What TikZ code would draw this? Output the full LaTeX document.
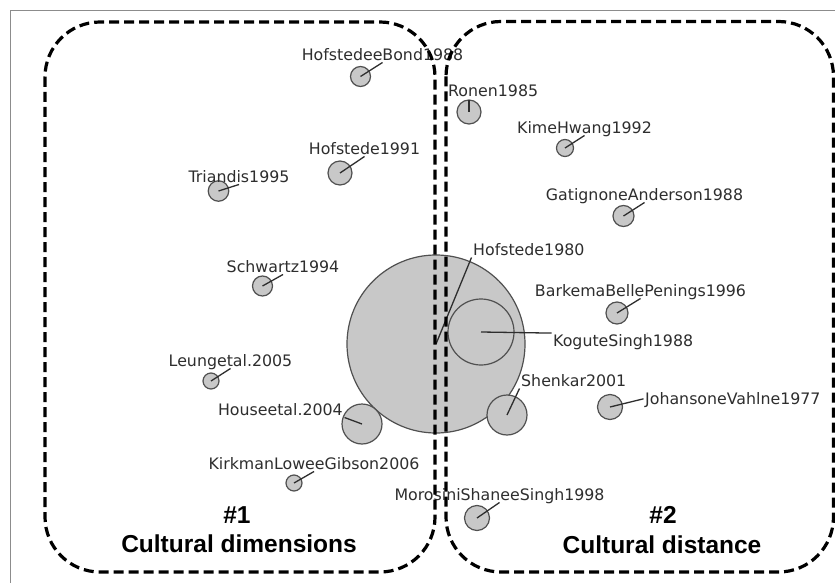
\documentclass[tikz,border=0pt]{standalone}
\usepackage{fontspec}
\setmainfont{DejaVu Sans}
\newfontfamily\titlefont{Liberation Sans}
\usepackage{tikz}
\definecolor{circfill}{HTML}{C8C8C8}
\definecolor{circline}{HTML}{505050}
\definecolor{ink}{HTML}{2E2E2E}
\definecolor{framegray}{HTML}{8C8C8C}

\begin{document}
\begin{tikzpicture}[x=1pt, y=-1pt,
		study/.style={circle, draw=circline, fill=circfill, line width=1.2pt, inner sep=0pt, minimum size=#1},
		lbl/.style={text=ink, font=\fontsize{15.8}{18}\selectfont, inner sep=1.5pt, text depth=0pt},
		link/.style={draw=ink, line width=1.3pt},
		cluster/.style={draw=black, line width=3.2pt, dash pattern=on 10pt off 5pt, rounded corners=55pt},
		grouptitle/.style={font=\titlefont\bfseries\fontsize{24.5}{29}\selectfont, anchor=base, inner sep=0pt}]

	\path[use as bounding box, fill=white] (0,0) rectangle (835,583);
	\draw[framegray, line width=1.8pt] (10.5,583) -- (10.5,10.5) -- (835,10.5);

	\node[study=178pt] (hof80) at (436,344) {};
	\node[study=66pt] (kogut) at (481,332) {};
	\node[study=40pt] (house) at (362,424) {};
	\node[study=40pt] (shenkar) at (507,415) {};
	\node[study=20pt] (bond) at (360.5,76.5) {};
	\node[study=24pt] (hof91) at (340,173) {};
	\node[study=20.5pt] (triandis) at (218.5,191) {};
	\node[study=20pt] (schwartz) at (262.5,286) {};
	\node[study=16pt] (leung) at (211,381) {};
	\node[study=16pt] (kirkman) at (294,483) {};
	\node[study=24pt] (ronen) at (469,112) {};
	\node[study=17pt] (kim) at (565,148) {};
	\node[study=21pt] (gatignon) at (623.5,216) {};
	\node[study=22pt] (barkema) at (617,313) {};
	\node[study=25pt] (johanson) at (610,407) {};
	\node[study=25pt] (morosini) at (477,518) {};

	\node[lbl, anchor=south] (bondl) at (382.5,62.5) {HofstedeeBond1988};
	\node[lbl, anchor=south] (hof91l) at (364.5,156.5) {Hofstede1991};
	\node[lbl, anchor=south] (triandisl) at (239,184.5) {Triandis1995};
	\node[lbl, anchor=south] (schwartzl) at (283,274.5) {Schwartz1994};
	\node[lbl, anchor=south] (leungl) at (230.5,368.5) {Leungetal.2005};
	\node[lbl, anchor=south] (kirkmanl) at (314,471.5) {KirkmanLoweeGibson2006};
	\node[lbl, anchor=south] (kiml) at (584.5,135.5) {KimeHwang1992};
	\node[lbl, anchor=south] (gatignonl) at (644.5,202.5) {GatignoneAnderson1988};
	\node[lbl, anchor=south] (barkemal) at (640.5,298.5) {BarkemaBellePenings1996};
	\node[lbl, anchor=south] (morosinil) at (499.5,502.5) {MorosiniShaneeSingh1998};
	\node[lbl, anchor=south west] (ronenl) at (446.5,98.5) {Ronen1985};
	\node[lbl, anchor=south west] (hof80l) at (471.5,257.5) {Hofstede1980};
	\node[lbl, anchor=south west] (kogutl) at (551.5,348.5) {KoguteSingh1988};
	\node[lbl, anchor=south west] (shenkarl) at (519.5,388.5) {Shenkar2001};
	\node[lbl, anchor=south west] (johansonl) at (643.5,406.5) {JohansoneVahlne1977};
	\node[lbl, anchor=south east] (housel) at (344.5,417.5) {Houseetal.2004};
	\coordinate (rtip) at (469,100);

	\draw[link] (bond.center) -- (bondl.south);
	\draw[link] (hof91.center) -- (hof91l.south);
	\draw[link] (triandis.center) -- (triandisl.south);
	\draw[link] (schwartz.center) -- (schwartzl.south);
	\draw[link] (leung.center) -- (leungl.south);
	\draw[link] (kirkman.center) -- (kirkmanl.south);
	\draw[link] (kim.center) -- (kiml.south);
	\draw[link] (gatignon.center) -- (gatignonl.south);
	\draw[link] (barkema.center) -- (barkemal.south);
	\draw[link] (morosini.center) -- (morosinil.south);
	\draw[link] (ronen.center) -- (rtip);
	\draw[link] (hof80.center) -- (hof80l.south west);
	\draw[link] (kogut.center) -- (kogutl.north west);
	\draw[link] (shenkar.center) -- (shenkarl.south west);
	\draw[link] (johanson.center) -- (johansonl.west);
	\draw[link] (house.center) -- (housel.south east);

	\draw[cluster] (45,22) rectangle (435,572);
	\draw[cluster] (446,21.5) rectangle (833.5,572);

	\node[grouptitle] (num1) at (237,523) {\#1};
	\node[grouptitle] (dims) at (239,552) {Cultural dimensions};
	\node[grouptitle] (num2) at (663,523) {\#2};
	\node[grouptitle] (dist) at (662,553) {Cultural distance};

\end{tikzpicture}
\end{document}
